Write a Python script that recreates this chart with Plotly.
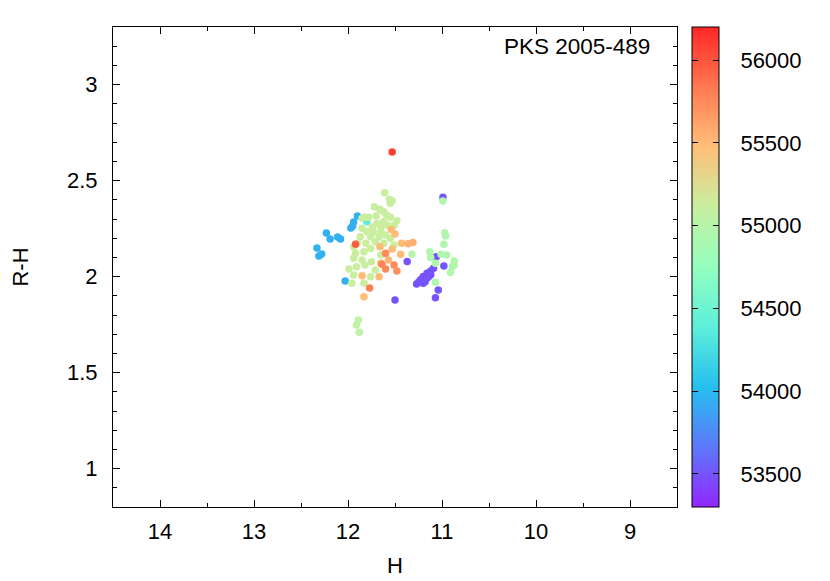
import plotly.graph_objects as go

h_mag = [
    # MJD ~53950 (blue)
    11.90, 11.94, 11.97, 11.95, 12.23, 12.19, 12.11, 12.08, 12.33, 12.28, 12.31, 12.03,
    # MJD ~53500 (purple)
    10.99, 11.06, 10.98, 11.27, 11.23, 11.20, 11.16, 11.12, 11.09, 11.18, 11.20, 11.16,
    11.04, 11.07, 11.50, 11.37, 11.25, 11.14, 11.12, 11.22,
    # MJD ~54350 (cyan)
    11.80,
    # MJD ~54950 (pale green)
    10.99, 10.97, 10.96, 10.98, 11.13, 11.12, 11.07, 11.01, 10.95, 10.87, 10.89, 10.91,
    10.87, 11.07, 11.32,
    # MJD ~55120 (yellow-green)
    11.61, 11.56, 11.53, 11.66, 11.62, 11.70, 11.82, 11.78, 11.59, 11.55, 11.48, 11.62,
    11.69, 11.74, 11.65, 11.58, 11.51, 11.80, 11.73, 11.65, 11.85, 11.87, 11.76, 11.67,
    11.60, 11.55, 11.90, 11.81, 11.71, 11.62, 11.94, 11.51, 11.92, 11.83, 11.76, 11.85,
    11.94, 11.99, 11.91, 11.82, 11.75, 11.71, 11.76, 11.94, 11.83, 11.96, 11.65, 11.72,
    11.55, 11.85, 11.89, 11.91, 11.88,
    # MJD ~55500 (orange)
    11.54, 11.50, 11.66, 11.43, 11.36, 11.31, 11.53, 11.44, 11.57, 11.67, 11.85, 11.83,
    11.65,
    # MJD ~55750 (red-orange)
    11.60, 11.64, 11.60, 11.51, 11.48, 11.77,
    # MJD ~55950 / 56100 (red)
    11.92, 11.53,
]

r_minus_h = [
    2.316, 2.285, 2.253, 2.264, 2.227, 2.196, 2.206, 2.196, 2.149, 2.118, 2.107, 1.977,
    2.413, 2.104, 2.055, 1.961, 1.982, 2.000, 2.017, 2.029, 2.043, 1.973, 1.965, 1.991,
    1.930, 1.890, 1.878, 2.078, 1.970, 2.000, 2.010, 1.985,
    2.286,
    2.394, 2.228, 2.211, 2.168, 2.130, 2.098, 2.069, 2.116, 2.112, 2.081, 2.052, 2.022,
    2.060, 1.970, 2.116,
    2.437, 2.403, 2.395, 2.351, 2.338, 2.316, 2.309, 2.309, 2.321, 2.309, 2.291, 2.286,
    2.277, 2.260, 2.260, 2.268, 2.268, 2.234, 2.234, 2.234, 2.252, 2.208, 2.208, 2.208,
    2.217, 2.200, 2.174, 2.174, 2.182, 2.174, 2.156, 2.165, 2.121, 2.129, 2.147, 2.086,
    2.095, 2.039, 2.051, 2.060, 2.077, 2.034, 1.999, 2.008, 1.965, 1.965, 2.112, 2.364,
    2.382, 2.304, 1.774, 1.748, 1.710,
    2.245, 2.222, 2.156, 2.174, 2.171, 2.177, 2.144, 2.116, 2.086, 1.999, 2.004, 1.895,
    2.069,
    2.121, 2.064, 2.040, 2.060, 2.029, 1.940,
    2.168, 2.649,
]

mjd = (
    [53960, 53950, 53950, 53940, 53960, 53950, 53950, 53940, 53960, 53950, 53950, 53940]
    + [53500, 53480, 53510, 53490, 53490, 53500, 53500, 53490, 53500, 53490, 53500, 53500,
       53510, 53490, 53500, 53490, 53500, 53490, 53500, 53500]
    + [54380]
    + [54950, 54960, 54960, 54950, 54950, 54950, 54960, 54950, 54950, 54960, 54950, 54950,
       54960, 54950, 54980]
    + [55120, 55110, 55110, 55120, 55120, 55120, 55130, 55120, 55110, 55120, 55110, 55120,
       55120, 55120, 55130, 55110, 55120, 55120, 55130, 55120, 55120, 55120, 55110, 55120,
       55120, 55120, 55120, 55130, 55120, 55120, 55120, 55110, 55120, 55120, 55130, 55120,
       55120, 55110, 55120, 55120, 55130, 55120, 55110, 55120, 55120, 55120, 55120, 55110,
       55110, 55110, 55050, 55050, 55050]
    + [55500, 55490, 55500, 55500, 55540, 55560, 55500, 55500, 55520, 55500, 55500, 55480,
       55500]
    + [55750, 55770, 55760, 55740, 55730, 55800]
    + [55960, 56100]
)

cb_ticks = [53500, 54000, 54500, 55000, 55500, 56000]
cb_min, cb_max = 53300, 56200

# rainbow palette (gnuplot 33,13,10) softened a little towards white
rainbow = [
    [0.0, "rgb(147,38,255)"],
    [0.125, "rgb(93,121,251)"],
    [0.25, "rgb(38,191,239)"],
    [0.375, "rgb(93,239,218)"],
    [0.5, "rgb(147,255,191)"],
    [0.625, "rgb(200,239,159)"],
    [0.75, "rgb(255,191,121)"],
    [0.875, "rgb(255,121,81)"],
    [1.0, "rgb(255,38,38)"],
]
clear = [[0, "rgba(0,0,0,0)"], [1, "rgba(0,0,0,0)"]]

font = "Liberation Sans, Arial, sans-serif"
cb_x = 1.0266
cb_width = 27


def tick_bar(x, thickness):
    # transparent colour bar that only draws gnuplot-style inner dashes
    return dict(
        x=x, xanchor="left", y=0.5, yanchor="middle", len=1.0, xpad=0, ypad=0,
        thickness=thickness, outlinewidth=0, bgcolor="rgba(0,0,0,0)",
        tickvals=cb_ticks, ticks="inside", ticklen=6, tickcolor="black",
        showticklabels=False,
    )


fig = go.Figure()
fig.add_trace(go.Scatter(
    x=h_mag, y=r_minus_h, mode="markers",
    marker=dict(
        size=7.5, color=mjd, colorscale=rainbow, cmin=cb_min, cmax=cb_max,
        line=dict(width=0),
        colorbar=dict(
            x=cb_x, xanchor="left", y=0.5, yanchor="middle", len=1.0,
            xpad=0, ypad=0,
            thickness=cb_width, outlinecolor="black", outlinewidth=1,
            tickvals=cb_ticks, tickformat="d",
            ticks="outside", ticklen=17, tickcolor="rgba(0,0,0,0)",
            tickfont=dict(family=font, size=22, color="black"),
        ),
    ),
    showlegend=False,
))

# dashes on the right and on the left inner edge of the colour bar
for bar in [tick_bar(cb_x, cb_width), tick_bar(cb_x, 6)]:
    fig.add_trace(go.Scatter(
        x=h_mag, y=r_minus_h, mode="markers", hoverinfo="skip",
        marker=dict(size=7.5, opacity=0, color=mjd, colorscale=clear,
                    cmin=cb_min, cmax=cb_max, colorbar=bar),
        showlegend=False,
    ))

axis_common = dict(
    showline=True, linecolor="black", linewidth=1, mirror="allticks",
    ticks="inside", ticklen=7, tickcolor="black", showgrid=False, zeroline=False,
    automargin=False,
    tickfont=dict(family=font, size=22, color="black"),
)

fig.update_xaxes(
    range=[14.5, 8.5], dtick=1, tick0=9, ticklabelstandoff=5,
    minor=dict(ticks="inside", ticklen=4, dtick=0.5, tickcolor="black"),
    title=dict(text="H", font=dict(family=font, size=22, color="black"), standoff=14),
    **axis_common,
)
fig.update_yaxes(
    range=[0.8, 3.3], dtick=0.5, tick0=1, ticklabelstandoff=10,
    minor=dict(ticks="inside", ticklen=4, dtick=0.1, tickcolor="black"),
    title=dict(text="R-H", font=dict(family=font, size=22, color="black"), standoff=35),
    **axis_common,
)

fig.add_annotation(
    text="PKS 2005-489", xref="paper", yref="paper", x=0.956, y=0.99,
    xanchor="right", yanchor="top", showarrow=False,
    font=dict(family=font, size=22.5, color="black"),
)

# the page body adds 8 px, so the figure is a little smaller than the window
fig.update_layout(
    width=822, height=573,
    margin=dict(l=105, r=153, t=19, b=74),
    plot_bgcolor="white", paper_bgcolor="white",
)

fig.write_html("out.html")
